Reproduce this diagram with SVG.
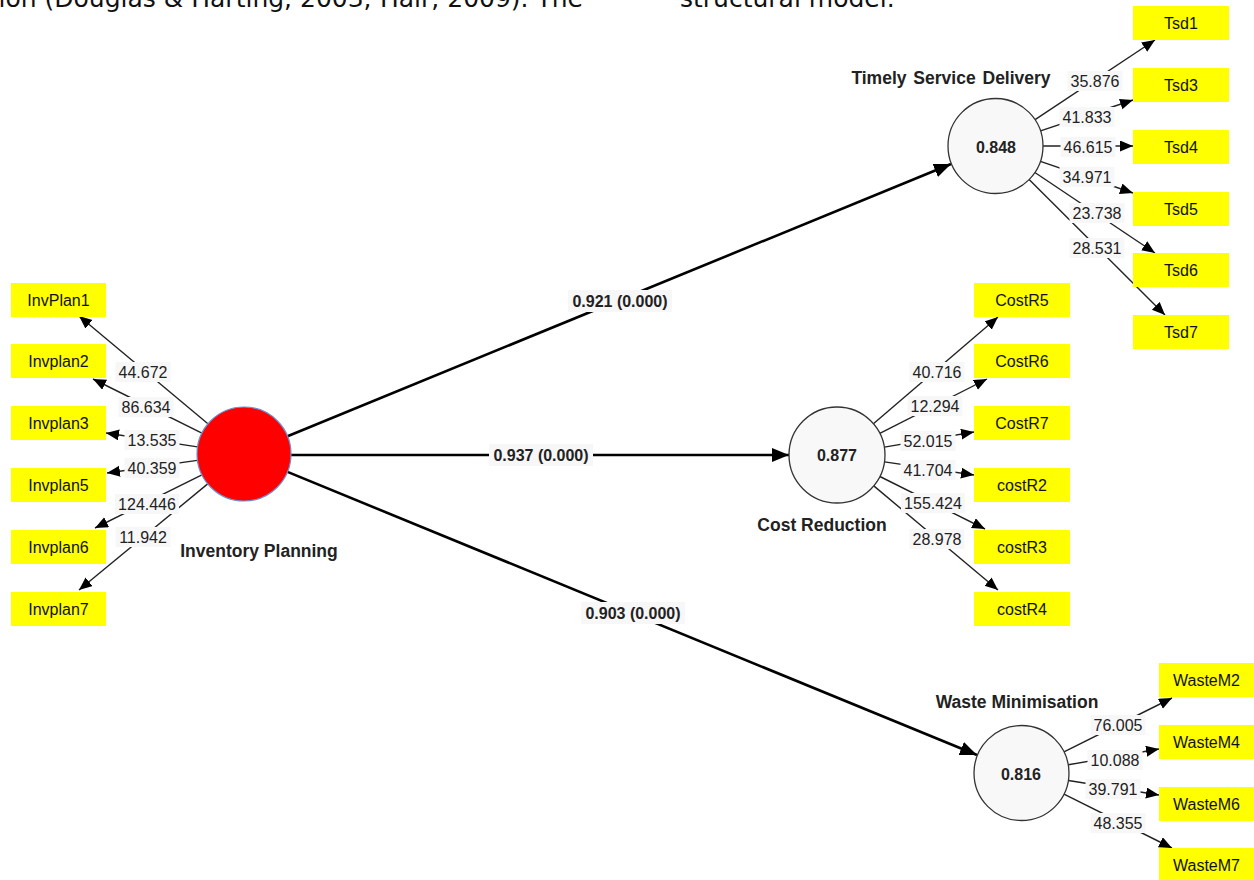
<svg xmlns="http://www.w3.org/2000/svg" width="1254" height="880" viewBox="0 0 1254 880">
<style>
  .top { font-family: "DejaVu Sans", Verdana, sans-serif; font-size: 25px; fill: #111; }
  .ind rect { fill: #ffff00; }
  .ind text { font-family: "Liberation Sans", Arial, sans-serif; font-size: 16px; fill: #111; text-anchor: middle; dominant-baseline: central; }
  .lv circle { fill: #f8f8f8; stroke: #333; stroke-width: 1.3; }
  .lv text.val { font-family: "Liberation Sans", Arial, sans-serif; font-size: 16px; font-weight: bold; fill: #222; text-anchor: middle; dominant-baseline: central; }
  .lv text.name { font-family: "Liberation Sans", Arial, sans-serif; font-size: 17.5px; font-weight: bold; fill: #222; text-anchor: middle; }
  .l { stroke: #222; stroke-width: 1.4; fill: none; marker-end: url(#a); }
  .p { stroke: #000; stroke-width: 2.6; fill: none; marker-end: url(#A); }
  .wl rect { fill: #f7f7f7; }
  .wl text { font-family: "Liberation Sans", Arial, sans-serif; font-size: 16px; fill: #222; text-anchor: middle; dominant-baseline: central; }
  .pl rect { fill: #f7f7f7; }
  .pl text { font-family: "Liberation Sans", Arial, sans-serif; font-size: 16px; font-weight: bold; fill: #222; text-anchor: middle; dominant-baseline: central; }
</style>
<defs>
  <marker id="a" markerUnits="userSpaceOnUse" markerWidth="14" markerHeight="12" refX="13" refY="5.5" orient="auto" viewBox="0 0 14 12">
    <path d="M0,0 L13,5.5 L0,11 z" fill="#000"/>
  </marker>
  <marker id="A" markerUnits="userSpaceOnUse" markerWidth="18" markerHeight="14" refX="17" refY="7" orient="auto" viewBox="0 0 18 14">
    <path d="M0,0 L17,7 L0,14 z" fill="#000"/>
  </marker>
</defs>
<rect width="1254" height="880" fill="#ffffff"/>

<text class="top" x="583" y="7" text-anchor="end">ion (Douglas &amp; Harting, 2003; Hair, 2009). The</text>
<text class="top" x="680" y="7">structural model.</text>

<g id="connectors">
  <!-- structural paths -->
  <line class="p" x1="287.5" y1="436.2" x2="951" y2="164"/>
  <line class="p" x1="291" y1="455" x2="789" y2="455"/>
  <line class="p" x1="287.5" y1="471.9" x2="977" y2="755"/>
  <!-- Inventory Planning indicators -->
  <line class="l" x1="207.9" y1="423.8" x2="79" y2="316"/>
  <line class="l" x1="201.9" y1="433.1" x2="93" y2="379"/>
  <line class="l" x1="197.5" y1="446.9" x2="106" y2="433"/>
  <line class="l" x1="197.4" y1="460.4" x2="107" y2="473"/>
  <line class="l" x1="201.9" y1="474.9" x2="95" y2="528"/>
  <line class="l" x1="207.7" y1="483.9" x2="79" y2="590"/>
  <!-- TSD indicators -->
  <line class="l" x1="1035.1" y1="119.7" x2="1155" y2="40"/>
  <line class="l" x1="1040.5" y1="130.9" x2="1133" y2="100"/>
  <line class="l" x1="1043" y1="146" x2="1133" y2="146"/>
  <line class="l" x1="1040.4" y1="161.4" x2="1133" y2="193"/>
  <line class="l" x1="1034.9" y1="172.5" x2="1155" y2="253"/>
  <line class="l" x1="1029.1" y1="179.5" x2="1165" y2="315"/>
  <!-- CR indicators -->
  <line class="l" x1="873.4" y1="423.8" x2="998" y2="317"/>
  <line class="l" x1="879.8" y1="433.3" x2="987" y2="379"/>
  <line class="l" x1="884.3" y1="447.1" x2="974" y2="432"/>
  <line class="l" x1="884.5" y1="461.9" x2="974" y2="475"/>
  <line class="l" x1="879.9" y1="476.5" x2="985" y2="529"/>
  <line class="l" x1="873.8" y1="485.9" x2="998" y2="590"/>
  <!-- WM indicators -->
  <line class="l" x1="1064" y1="751.8" x2="1172" y2="698"/>
  <line class="l" x1="1068.3" y1="764.8" x2="1159" y2="749"/>
  <line class="l" x1="1068.4" y1="780.5" x2="1159" y2="795"/>
  <line class="l" x1="1064" y1="794.2" x2="1172" y2="848"/>

  <!-- path labels -->
  <g class="pl">
    <rect x="568" y="290" width="104" height="22"/>
    <text x="620" y="301">0.921 (0.000)</text>
    <rect x="489" y="444" width="104" height="22"/>
    <text x="541" y="455">0.937 (0.000)</text>
    <rect x="581" y="602" width="104" height="22"/>
    <text x="633" y="613">0.903 (0.000)</text>
  </g>

  <!-- weight labels -->
  <g class="wl">
    <rect x="115.5" y="362" width="55" height="20"/><text x="143" y="372">44.672</text>
    <rect x="118.5" y="397" width="55" height="20"/><text x="146" y="407">86.634</text>
    <rect x="124.5" y="430" width="55" height="20"/><text x="152" y="440">13.535</text>
    <rect x="124.5" y="458" width="55" height="20"/><text x="152" y="468">40.359</text>
    <rect x="115" y="494" width="64" height="20"/><text x="147" y="504">124.446</text>
    <rect x="115.5" y="527" width="55" height="20"/><text x="143" y="537">11.942</text>

    <rect x="1067.5" y="71" width="55" height="20"/><text x="1095" y="81">35.876</text>
    <rect x="1059.5" y="107" width="55" height="20"/><text x="1087" y="117">41.833</text>
    <rect x="1060.5" y="137" width="55" height="20"/><text x="1088" y="147">46.615</text>
    <rect x="1059.5" y="167" width="55" height="20"/><text x="1087" y="177">34.971</text>
    <rect x="1069.5" y="203" width="55" height="20"/><text x="1097" y="213">23.738</text>
    <rect x="1069.5" y="238" width="55" height="20"/><text x="1097" y="248">28.531</text>

    <rect x="909.5" y="362" width="55" height="20"/><text x="937" y="372">40.716</text>
    <rect x="907.5" y="396" width="55" height="20"/><text x="935" y="406">12.294</text>
    <rect x="900.5" y="431" width="55" height="20"/><text x="928" y="441">52.015</text>
    <rect x="900.5" y="460" width="55" height="20"/><text x="928" y="470">41.704</text>
    <rect x="901" y="493" width="64" height="20"/><text x="933" y="503">155.424</text>
    <rect x="909.5" y="529" width="55" height="20"/><text x="937" y="539">28.978</text>

    <rect x="1090.5" y="715" width="55" height="20"/><text x="1118" y="725">76.005</text>
    <rect x="1087.5" y="750" width="55" height="20"/><text x="1115" y="760">10.088</text>
    <rect x="1085.5" y="779" width="55" height="20"/><text x="1113" y="789">39.791</text>
    <rect x="1090.5" y="813" width="55" height="20"/><text x="1118" y="823">48.355</text>
  </g>
</g>

<!-- latent variables -->
<g id="inventory-planning" class="lv">
  <circle cx="244" cy="454" r="47" style="fill:#ff0000;stroke:#6a8fd0;stroke-width:1.2"/>
  <text class="name" x="259" y="557">Inventory Planning</text>
</g>
<g id="timely-service-delivery" class="lv">
  <circle cx="995.5" cy="146" r="47.5"/>
  <text class="val" x="996" y="147">0.848</text>
  <text class="name" x="951" y="84" style="word-spacing:2px">Timely Service Delivery</text>
</g>
<g id="cost-reduction" class="lv">
  <circle cx="837" cy="455" r="48"/>
  <text class="val" x="837" y="455">0.877</text>
  <text class="name" x="822" y="531">Cost Reduction</text>
</g>
<g id="waste-minimisation" class="lv">
  <circle cx="1021.5" cy="773" r="47.5"/>
  <text class="val" x="1021" y="774">0.816</text>
  <text class="name" x="1017" y="708">Waste Minimisation</text>
</g>

<!-- indicators -->
<g id="InvPlan1" class="ind"><rect x="11" y="283" width="95" height="34"/><text x="58.5" y="300">InvPlan1</text></g>
<g id="Invplan2" class="ind"><rect x="11" y="344" width="95" height="34"/><text x="58.5" y="361">Invplan2</text></g>
<g id="Invplan3" class="ind"><rect x="11" y="406" width="95" height="34"/><text x="58.5" y="423">Invplan3</text></g>
<g id="Invplan5" class="ind"><rect x="11" y="468" width="95" height="34"/><text x="58.5" y="485">Invplan5</text></g>
<g id="Invplan6" class="ind"><rect x="11" y="530" width="95" height="34"/><text x="58.5" y="547">Invplan6</text></g>
<g id="Invplan7" class="ind"><rect x="11" y="592" width="95" height="34"/><text x="58.5" y="609">Invplan7</text></g>

<g id="Tsd1" class="ind"><rect x="1133" y="6" width="96" height="34"/><text x="1181" y="23">Tsd1</text></g>
<g id="Tsd3" class="ind"><rect x="1133" y="68" width="96" height="34"/><text x="1181" y="85">Tsd3</text></g>
<g id="Tsd4" class="ind"><rect x="1133" y="130" width="96" height="34"/><text x="1181" y="147">Tsd4</text></g>
<g id="Tsd5" class="ind"><rect x="1133" y="192" width="96" height="34"/><text x="1181" y="209">Tsd5</text></g>
<g id="Tsd6" class="ind"><rect x="1133" y="253" width="96" height="34"/><text x="1181" y="270">Tsd6</text></g>
<g id="Tsd7" class="ind"><rect x="1133" y="315" width="96" height="34"/><text x="1181" y="332">Tsd7</text></g>

<g id="CostR5" class="ind"><rect x="974" y="283" width="96" height="34"/><text x="1022" y="300">CostR5</text></g>
<g id="CostR6" class="ind"><rect x="974" y="344" width="96" height="34"/><text x="1022" y="361">CostR6</text></g>
<g id="CostR7" class="ind"><rect x="974" y="406" width="96" height="34"/><text x="1022" y="423">CostR7</text></g>
<g id="costR2" class="ind"><rect x="974" y="468" width="96" height="34"/><text x="1022" y="485">costR2</text></g>
<g id="costR3" class="ind"><rect x="974" y="530" width="96" height="34"/><text x="1022" y="547">costR3</text></g>
<g id="costR4" class="ind"><rect x="974" y="592" width="96" height="34"/><text x="1022" y="609">costR4</text></g>

<g id="WasteM2" class="ind"><rect x="1159" y="663" width="95" height="34"/><text x="1206.5" y="680">WasteM2</text></g>
<g id="WasteM4" class="ind"><rect x="1159" y="725" width="95" height="34"/><text x="1206.5" y="742">WasteM4</text></g>
<g id="WasteM6" class="ind"><rect x="1159" y="787" width="95" height="34"/><text x="1206.5" y="804">WasteM6</text></g>
<g id="WasteM7" class="ind"><rect x="1159" y="848" width="95" height="34"/><text x="1206.5" y="865">WasteM7</text></g>
</svg>
